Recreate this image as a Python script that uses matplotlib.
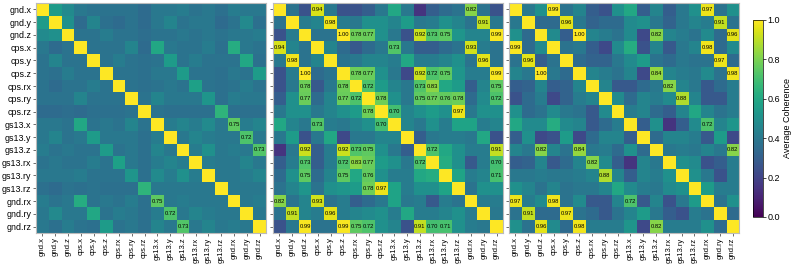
import numpy as np
import matplotlib
matplotlib.use("Agg")
import matplotlib.pyplot as plt

plt.rcParams['font.family'] = ['Liberation Sans', 'DejaVu Sans']

labels = ["gnd.x", "gnd.y", "gnd.z", "cps.x", "cps.y", "cps.z", "cps.rx", "cps.ry", "cps.rz",
          "gs13.x", "gs13.y", "gs13.z", "gs13.rx", "gs13.ry", "gs13.rz", "gnd.rx", "gnd.ry", "gnd.rz"]

# upper-triangle rows (values right of the diagonal), matrices are symmetric
upper_a = [
    [0.55, 0.48, 0.40, 0.38, 0.38, 0.38, 0.38, 0.35, 0.40, 0.40, 0.42, 0.38, 0.40, 0.37, 0.42, 0.40, 0.40],
    [0.50, 0.35, 0.45, 0.37, 0.35, 0.38, 0.35, 0.40, 0.45, 0.38, 0.40, 0.40, 0.35, 0.38, 0.47, 0.37],
    [0.38, 0.38, 0.42, 0.38, 0.38, 0.36, 0.38, 0.38, 0.40, 0.38, 0.40, 0.38, 0.40, 0.40, 0.42],
    [0.38, 0.38, 0.38, 0.45, 0.35, 0.60, 0.40, 0.38, 0.38, 0.42, 0.37, 0.62, 0.40, 0.38],
    [0.38, 0.42, 0.38, 0.37, 0.38, 0.55, 0.38, 0.42, 0.38, 0.38, 0.38, 0.60, 0.37],
    [0.38, 0.38, 0.37, 0.40, 0.40, 0.55, 0.38, 0.38, 0.37, 0.40, 0.38, 0.55],
    [0.38, 0.37, 0.38, 0.40, 0.38, 0.57, 0.38, 0.37, 0.38, 0.42, 0.38],
    [0.38, 0.45, 0.40, 0.40, 0.40, 0.52, 0.37, 0.42, 0.40, 0.40],
    [0.38, 0.37, 0.37, 0.37, 0.37, 0.65, 0.37, 0.37, 0.37],
    [0.42, 0.45, 0.42, 0.48, 0.40, 0.75, 0.42, 0.45],
    [0.40, 0.45, 0.42, 0.40, 0.40, 0.72, 0.40],
    [0.42, 0.50, 0.40, 0.42, 0.40, 0.73],
    [0.42, 0.40, 0.40, 0.45, 0.40],
    [0.40, 0.40, 0.42, 0.45],
    [0.40, 0.40, 0.40],
    [0.40, 0.42],
    [0.40],
]

upper_b = [
    [0.38, 0.25, 0.94, 0.40, 0.25, 0.25, 0.30, 0.40, 0.60, 0.40, 0.15, 0.30, 0.35, 0.38, 0.82, 0.38, 0.25],
    [0.42, 0.45, 0.98, 0.42, 0.40, 0.50, 0.50, 0.45, 0.55, 0.40, 0.42, 0.50, 0.45, 0.38, 0.91, 0.40],
    [0.38, 0.38, 1.00, 0.78, 0.77, 0.50, 0.40, 0.25, 0.92, 0.73, 0.75, 0.52, 0.45, 0.45, 0.99],
    [0.45, 0.35, 0.28, 0.35, 0.40, 0.73, 0.40, 0.30, 0.30, 0.35, 0.38, 0.93, 0.42, 0.38],
    [0.38, 0.40, 0.45, 0.45, 0.42, 0.60, 0.42, 0.42, 0.45, 0.50, 0.38, 0.96, 0.38],
    [0.78, 0.77, 0.50, 0.40, 0.22, 0.92, 0.72, 0.75, 0.52, 0.42, 0.42, 0.99],
    [0.72, 0.55, 0.45, 0.40, 0.73, 0.83, 0.60, 0.55, 0.30, 0.45, 0.75],
    [0.78, 0.50, 0.40, 0.75, 0.77, 0.76, 0.78, 0.35, 0.48, 0.72],
    [0.70, 0.45, 0.50, 0.55, 0.50, 0.97, 0.40, 0.50, 0.50],
    [0.45, 0.40, 0.50, 0.42, 0.58, 0.58, 0.42, 0.45],
    [0.30, 0.40, 0.42, 0.42, 0.40, 0.60, 0.25],
    [0.72, 0.60, 0.50, 0.42, 0.42, 0.91],
    [0.62, 0.50, 0.28, 0.42, 0.70],
    [0.58, 0.42, 0.45, 0.71],
    [0.38, 0.50, 0.50],
    [0.42, 0.42],
    [0.40],
]

upper_c = [
    [0.40, 0.50, 0.99, 0.38, 0.45, 0.30, 0.25, 0.50, 0.60, 0.30, 0.45, 0.30, 0.40, 0.50, 0.97, 0.38, 0.50],
    [0.35, 0.35, 0.96, 0.40, 0.32, 0.35, 0.35, 0.48, 0.50, 0.40, 0.32, 0.40, 0.45, 0.42, 0.91, 0.38],
    [0.48, 0.30, 1.00, 0.45, 0.42, 0.38, 0.48, 0.22, 0.82, 0.45, 0.42, 0.38, 0.48, 0.35, 0.96],
    [0.38, 0.40, 0.30, 0.22, 0.48, 0.62, 0.25, 0.45, 0.28, 0.40, 0.45, 0.98, 0.35, 0.48],
    [0.35, 0.32, 0.32, 0.40, 0.48, 0.55, 0.38, 0.35, 0.40, 0.38, 0.38, 0.97, 0.35],
    [0.45, 0.42, 0.38, 0.45, 0.22, 0.84, 0.45, 0.42, 0.40, 0.48, 0.38, 0.98],
    [0.45, 0.28, 0.28, 0.35, 0.40, 0.82, 0.45, 0.40, 0.28, 0.35, 0.42],
    [0.48, 0.35, 0.45, 0.42, 0.48, 0.88, 0.45, 0.28, 0.28, 0.42],
    [0.42, 0.45, 0.35, 0.30, 0.45, 0.60, 0.45, 0.38, 0.42],
    [0.30, 0.50, 0.15, 0.30, 0.48, 0.72, 0.45, 0.52],
    [0.35, 0.45, 0.45, 0.42, 0.28, 0.55, 0.22],
    [0.40, 0.42, 0.40, 0.45, 0.40, 0.82],
    [0.50, 0.48, 0.25, 0.30, 0.42],
    [0.50, 0.40, 0.25, 0.42],
    [0.55, 0.42, 0.42],
    [0.38, 0.50],
    [0.35],
]


def build(upper):
    n = len(labels)
    m = np.eye(n)
    for i, row in enumerate(upper):
        for k, v in enumerate(row):
            j = i + 1 + k
            m[i, j] = v
            m[j, i] = v
    return m


mats = [build(upper_a), build(upper_b), build(upper_c)]

W, H = 793, 264
fig = plt.figure(figsize=(W / 100, H / 100), dpi=100)
lefts = [36, 273, 509]
size = 230
top = 3
n = len(labels)
for p, (left, m) in enumerate(zip(lefts, mats)):
    ax = fig.add_axes([left / W, (H - top - size) / H, size / W, size / H])
    im = ax.imshow(m, cmap='viridis', vmin=0, vmax=1, aspect='auto', interpolation='nearest')
    ax.set_xticks(range(n))
    ax.set_xticklabels(labels, rotation=90, fontsize=5.5)
    ax.set_yticks(range(n))
    if p == 0:
        ax.set_yticklabels(labels, fontsize=6.4)
    else:
        ax.set_yticklabels([])
    ax.tick_params(length=2, width=0.5, pad=1.2, colors='#333333', labelcolor='black')
    for s in ax.spines.values():
        s.set_color('#bbbbbb')
        s.set_linewidth(0.8)
    for i in range(n):
        for j in range(n):
            if i != j and m[i, j] >= 0.7:
                ax.text(j, i, f"{m[i, j]:.2f}", ha='center', va='center', fontsize=4.2, color='black')

cax = fig.add_axes([753 / W, (H - 217) / H, 10 / W, 197 / H])
cb = fig.colorbar(im, cax=cax)
cb.set_ticks([0.0, 0.2, 0.4, 0.6, 0.8, 1.0])
cb.ax.tick_params(labelsize=6.5, length=2, width=0.5, pad=1.2)
cb.set_label("Average Coherence", fontsize=6.5, labelpad=2)
cb.outline.set_linewidth(0.5)

fig.savefig("out.png", dpi=100)
